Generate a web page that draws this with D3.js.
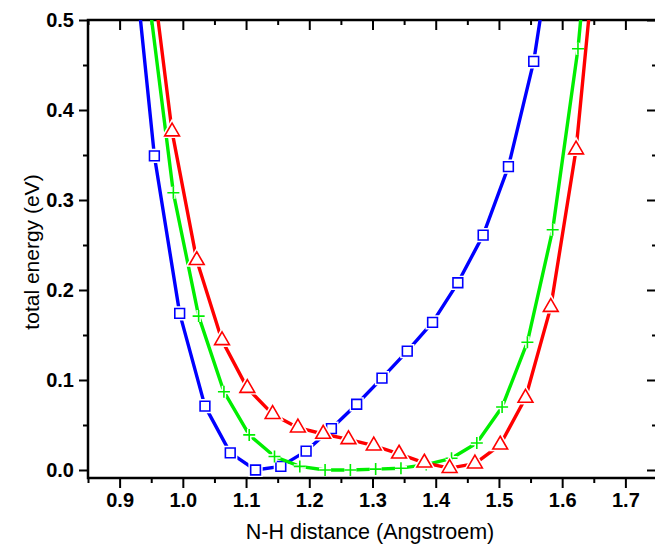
<!DOCTYPE html>
<html>
<head>
<meta charset="utf-8">
<script src="https://cdn.jsdelivr.net/npm/d3@7"></script>
<style>
  body { margin: 0; background: #fff; }
  svg { display: block; font-family: "Liberation Sans", Arial, sans-serif; }
</style>
</head>
<body>
<svg width="655" height="546"></svg>
<script>
// N-H distance (Angstroem) vs total energy (eV), three curves
var blueX = [0.915, 0.955, 0.995, 1.035, 1.075, 1.115, 1.155, 1.195, 1.235, 1.275, 1.315, 1.355, 1.395, 1.435, 1.475, 1.515, 1.555, 1.595];
var blueY = [0.624, 0.349, 0.174, 0.071, 0.019, 0.000, 0.004, 0.021, 0.046, 0.073, 0.102, 0.132, 0.164, 0.208, 0.261, 0.337, 0.454, 0.637];

var greenX = [0.945, 0.985, 1.025, 1.065, 1.105, 1.145, 1.185, 1.225, 1.265, 1.305, 1.345, 1.385, 1.425, 1.465, 1.505, 1.545, 1.585, 1.625, 1.665];
var greenY = [0.532, 0.308, 0.171, 0.087, 0.039, 0.015, 0.004, 0.000, 0.000, 0.001, 0.002, 0.006, 0.013, 0.030, 0.070, 0.142, 0.267, 0.468, 0.770];

var redX = [0.943, 0.983, 1.022, 1.062, 1.102, 1.142, 1.182, 1.222, 1.262, 1.302, 1.342, 1.382, 1.422, 1.462, 1.502, 1.542, 1.582, 1.622, 1.662];
var redY = [0.600, 0.376, 0.233, 0.144, 0.091, 0.062, 0.047, 0.040, 0.034, 0.027, 0.018, 0.008, 0.002, 0.007, 0.028, 0.080, 0.181, 0.356, 0.646];

var xTicks = [0.9, 1.0, 1.1, 1.2, 1.3, 1.4, 1.5, 1.6, 1.7];
var yTicks = [0.0, 0.1, 0.2, 0.3, 0.4, 0.5];

var svg = d3.select("svg");
var mLeft = 88, mRight = 657, mTop = 20, mBottom = 478;

var x = d3.scaleLinear().domain([0.85, 1.75]).range([mLeft, mRight]);
var y = d3.scaleLinear().domain([-0.0089, 0.5]).range([mBottom, mTop]);

svg.append("defs").append("clipPath").attr("id", "plotclip")
  .append("rect")
  .attr("x", mLeft).attr("y", mTop)
  .attr("width", mRight - mLeft).attr("height", mBottom - mTop);

var minorX = [0.85, 0.95, 1.05, 1.15, 1.25, 1.35, 1.45, 1.55, 1.65, 1.75];
var minorY = [0.05, 0.15, 0.25, 0.35, 0.45];

// axes, origin style: bottom/left outward, top/right inward
var bottomAxis = svg.append("g")
  .attr("transform", "translate(0," + mBottom + ")")
  .call(d3.axisBottom(x).tickValues(xTicks).tickFormat(d3.format(".1f")).tickSize(10).tickPadding(5));
svg.append("g")
  .attr("transform", "translate(0," + mBottom + ")")
  .call(d3.axisBottom(x).tickValues(minorX).tickFormat("").tickSize(5));

var leftAxis = svg.append("g")
  .attr("transform", "translate(" + mLeft + ",0)")
  .call(d3.axisLeft(y).tickValues(yTicks).tickFormat(d3.format(".1f")).tickSize(9).tickPadding(5));
svg.append("g")
  .attr("transform", "translate(" + mLeft + ",0)")
  .call(d3.axisLeft(y).tickValues(minorY).tickFormat("").tickSize(5));

svg.append("g")
  .attr("transform", "translate(0," + mTop + ")")
  .call(d3.axisBottom(x).tickValues(xTicks).tickFormat("").tickSize(10));
svg.append("g")
  .attr("transform", "translate(0," + mTop + ")")
  .call(d3.axisBottom(x).tickValues(minorX).tickFormat("").tickSize(5));

svg.append("g")
  .attr("transform", "translate(" + mRight + ",0)")
  .call(d3.axisLeft(y).tickValues(yTicks).tickFormat("").tickSize(10));
svg.append("g")
  .attr("transform", "translate(" + mRight + ",0)")
  .call(d3.axisLeft(y).tickValues(minorY).tickFormat("").tickSize(5));

svg.selectAll(".domain").remove();
svg.selectAll(".tick line").attr("stroke", "#000").attr("stroke-width", 2);

// frame
svg.append("rect")
  .attr("x", mLeft).attr("y", mTop)
  .attr("width", mRight - mLeft).attr("height", mBottom - mTop)
  .attr("fill", "none").attr("stroke", "#000").attr("stroke-width", 2.5);

bottomAxis.selectAll("text")
  .style("font-size", "20px").style("font-weight", "bold")
  .style("font-family", "Liberation Sans, Arial, sans-serif").attr("fill", "#000");
leftAxis.selectAll("text")
  .style("font-size", "20px").style("font-weight", "bold")
  .style("font-family", "Liberation Sans, Arial, sans-serif").attr("fill", "#000");

// curves
var series = [
  { xs: blueX, ys: blueY, color: "#0000ff", symbol: d3.symbolSquare, size: 95 },
  { xs: greenX, ys: greenY, color: "#00ee00", symbol: null, size: 0 },
  { xs: redX, ys: redY, color: "#ff0000", symbol: d3.symbolTriangle, size: 95 }
];

var plot = svg.append("g").attr("clip-path", "url(#plotclip)");

var line = d3.line()
  .x(function(d) { return x(d[0]); })
  .y(function(d) { return y(d[1]); });

series.forEach(function(s) {
  var pts = s.xs.map(function(v, i) { return [v, s.ys[i]]; });
  plot.append("path")
    .datum(pts)
    .attr("d", line)
    .attr("fill", "none")
    .attr("stroke", s.color)
    .attr("stroke-width", 3.4)
    .attr("stroke-linejoin", "round");

  var sym;
  if (s.symbol) {
    sym = d3.symbol().type(s.symbol).size(s.size)();
  } else {
    sym = "M-6,0H6M0,-6V6";
  }

  // white halo makes the gap where the line meets a symbol
  plot.selectAll(null)
    .data(pts)
    .enter().append("path")
    .attr("d", sym)
    .attr("transform", function(d) { return "translate(" + x(d[0]) + "," + y(d[1]) + ")"; })
    .attr("fill", "#fff")
    .attr("stroke", "#fff")
    .attr("stroke-width", 4.5);

  plot.selectAll(null)
    .data(pts)
    .enter().append("path")
    .attr("d", sym)
    .attr("transform", function(d) { return "translate(" + x(d[0]) + "," + y(d[1]) + ")"; })
    .attr("fill", "#fff")
    .attr("stroke", s.color)
    .attr("stroke-width", 1.6);
});

// axis titles
svg.append("text")
  .attr("x", 370)
  .attr("y", 539)
  .attr("text-anchor", "middle")
  .attr("font-size", "21.5px")
  .text("N-H distance (Angstroem)");

svg.append("text")
  .attr("transform", "translate(39,252) rotate(-90)")
  .attr("text-anchor", "middle")
  .attr("font-size", "21px")
  .text("total energy (eV)");
</script>
</body>
</html>
